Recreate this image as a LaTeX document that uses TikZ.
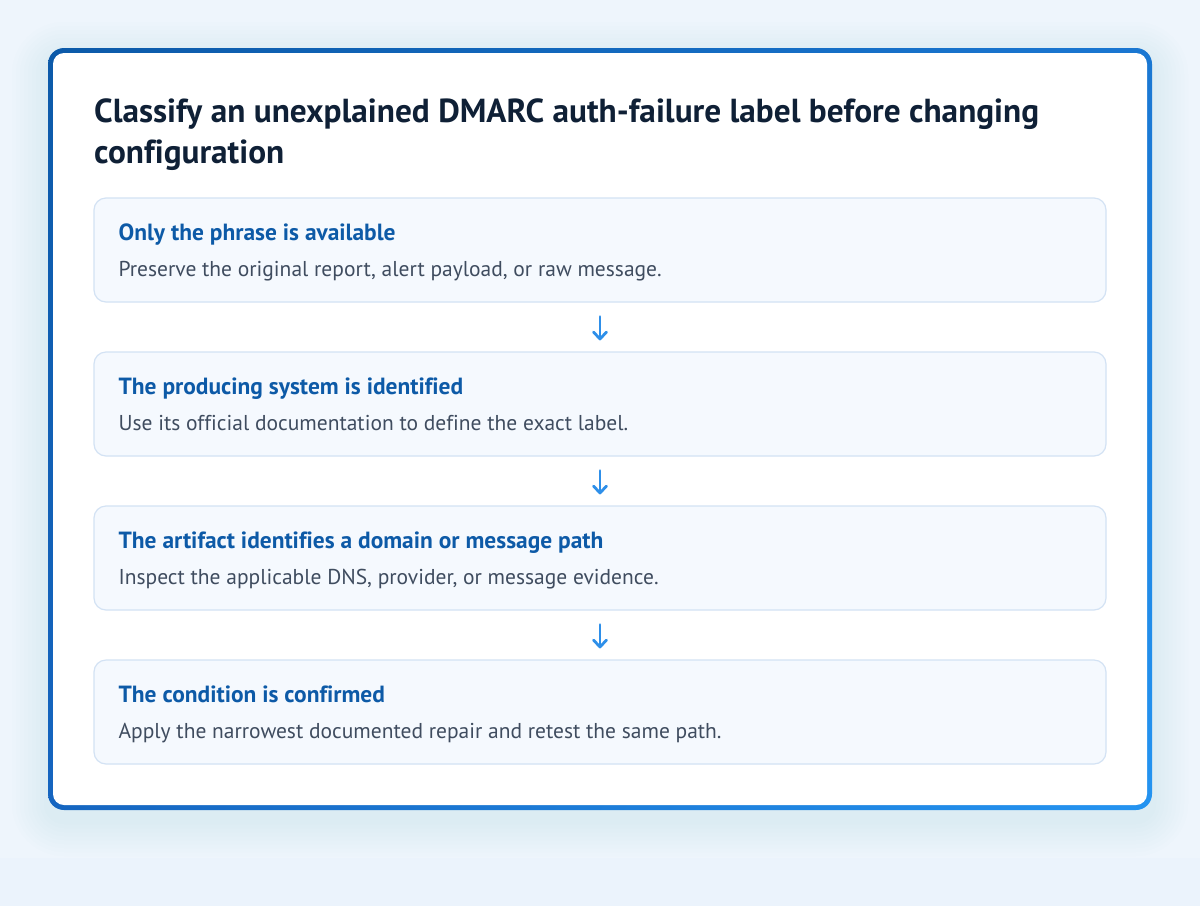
\documentclass[tikz,border=0pt]{standalone}
\usepackage{fontspec}
\setmainfont[Ligatures={NoCommon}]{PT Sans}
\usetikzlibrary{arrows.meta,shadings}
\definecolor{bgc}{HTML}{EEF5FC}
\definecolor{bandc}{HTML}{EBF3FC}
\definecolor{shadowc}{HTML}{A9CBF0}
\definecolor{cardtl}{HTML}{0C5AA9}
\definecolor{cardtr}{HTML}{1A77D2}
\definecolor{cardbl}{HTML}{1565C0}
\definecolor{cardbr}{HTML}{2494F1}
\definecolor{titlec}{HTML}{0F2036}
\definecolor{headc}{HTML}{0D5AA7}
\definecolor{bodyc}{HTML}{3F4C5F}
\definecolor{boxfill}{HTML}{F5F9FE}
\definecolor{boxline}{HTML}{D3E2F4}
\definecolor{arrowc}{HTML}{2E8FE9}
\newsavebox\measbox
\begin{document}
\sbox\measbox{\normalfont\bfseries\fontsize{10}{12}\selectfont Classify an unexplained DMARC auth-failure label before changing}%
\pgfmathsetmacro\tsz{10*945/\the\wd\measbox}%
\sbox\measbox{\normalfont\bfseries\fontsize{10}{12}\selectfont Only the phrase is available}%
\pgfmathsetmacro\hsz{10*277/\the\wd\measbox}%
\sbox\measbox{\normalfont\fontsize{10}{12}\selectfont Apply the narrowest documented repair and retest the same path.}%
\pgfmathsetmacro\bsz{10*603/\the\wd\measbox}%
\begin{tikzpicture}[x=1pt,y=-1pt,
  titletext/.style={inner sep=0pt,anchor=base west,text=titlec,font=\bfseries\fontsize{\tsz}{\tsz}\selectfont},
  headtext/.style={inner sep=0pt,anchor=base west,text=headc,font=\bfseries\fontsize{\hsz}{\hsz}\selectfont},
  bodytext/.style={inner sep=0pt,anchor=base west,text=bodyc,font=\fontsize{\bsz}{\bsz}\selectfont},
  stepbox/.style={draw=boxline,line width=1.2pt,fill=boxfill,rounded corners=12pt,
    minimum width=1012pt,minimum height=104pt,inner sep=0pt},
  flowarrow/.style={draw=arrowc,line width=2.8pt,line cap=round,
    -{Straight Barb[length=7pt,width=13pt,line width=2.8pt,round]}}]
% background
\fill[bgc] (0,0) rectangle (1200,906);
\fill[bandc] (0,858) rectangle (1200,906);
% card shadow (soft)
\foreach \s in {4,8,...,36}{
  \fill[shadowc,opacity=0.022,rounded corners=16pt+\s pt] (48-\s,58-\s) rectangle (1152+\s,820+\s);
}
% card
\shade[rounded corners=16pt,upper left=cardtl,upper right=cardtr,lower left=cardbl,lower right=cardbr]
  (48,48) rectangle (1152,810);
\fill[white,rounded corners=11pt] (53,53) rectangle (1147,805);
% title
\node[titletext] (t1) at (94,122) {Classify an unexplained DMARC auth-failure label before changing};
\node[titletext] (t2) at (94,163) {configuration};
% steps
\node[stepbox] (b1) at (600,250) {};
\node[stepbox] (b2) at (600,404) {};
\node[stepbox] (b3) at (600,558) {};
\node[stepbox] (b4) at (600,712) {};
\node[headtext] (h1) at ([xshift=25pt,yshift=-43pt]b1.north west) {Only the phrase is available};
\node[bodytext] (d1) at ([xshift=25pt,yshift=-79pt]b1.north west) {Preserve the original report, alert payload, or raw message.};
\node[headtext] (h2) at ([xshift=25pt,yshift=-43pt]b2.north west) {The producing system is identified};
\node[bodytext] (d2) at ([xshift=25pt,yshift=-79pt]b2.north west) {Use its official documentation to define the exact label.};
\node[headtext] (h3) at ([xshift=25pt,yshift=-43pt]b3.north west) {The artifact identifies a domain or message path};
\node[bodytext] (d3) at ([xshift=25pt,yshift=-79pt]b3.north west) {Inspect the applicable DNS, provider, or message evidence.};
\node[headtext] (h4) at ([xshift=25pt,yshift=-43pt]b4.north west) {The condition is confirmed};
\node[bodytext] (d4) at ([xshift=25pt,yshift=-79pt]b4.north west) {Apply the narrowest documented repair and retest the same path.};
% arrows
\draw[flowarrow] ([yshift=-14pt]b1.south) -- ([yshift=11pt]b2.north);
\draw[flowarrow] ([yshift=-14pt]b2.south) -- ([yshift=11pt]b3.north);
\draw[flowarrow] ([yshift=-14pt]b3.south) -- ([yshift=11pt]b4.north);
\useasboundingbox (0,0) rectangle (1200,906);
\end{tikzpicture}
\end{document}
